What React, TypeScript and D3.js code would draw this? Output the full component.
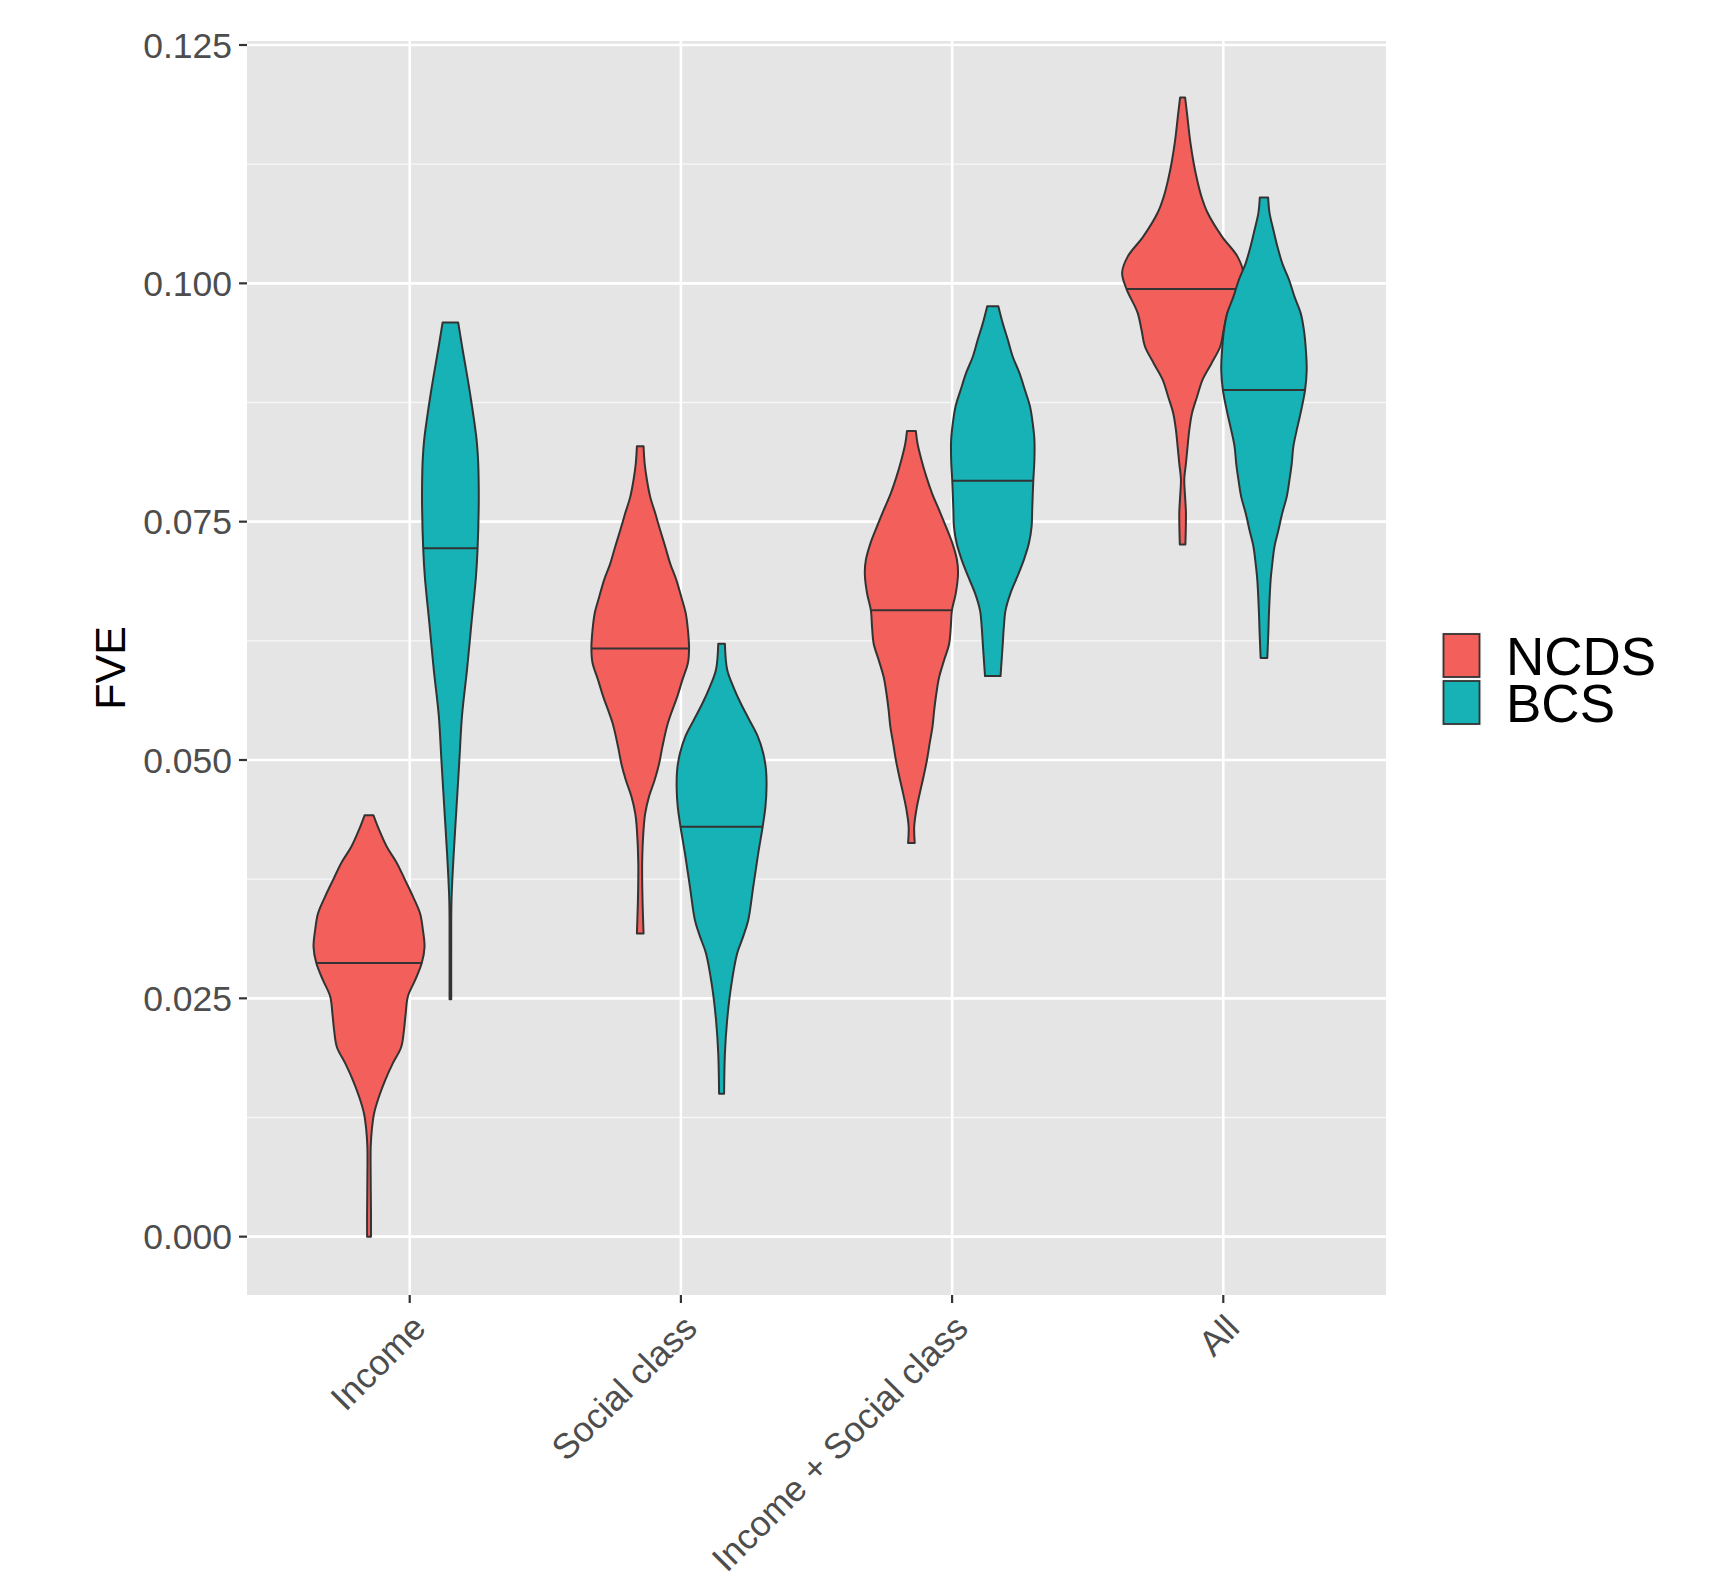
import React from "react";
import * as d3 from "d3";

// Categories on the x axis and the two cohorts that are dodged within each.
const categories = ["Income", "Social class", "Income + Social class", "All"];
const cohorts = ["NCDS", "BCS"];
const cohortColors = ["#F35F5A", "#17B2B6"];

const yTicks = [0, 0.025, 0.05, 0.075, 0.1, 0.125];
const yMinorTicks = [0.0125, 0.0375, 0.0625, 0.0875, 0.1125];

// Medians (the horizontal line inside each violin).
const ncdsMedians = [0.0287, 0.0617, 0.0657, 0.0994];
const bcsMedians = [0.0722, 0.043, 0.0793, 0.0888];

// Density profiles: [FVE, relative density], ascending FVE.
const incomeNCDS: [number, number][] = [
  [0.0, 0.035], [0.0025, 0.035], [0.006, 0.03], [0.0094, 0.03], [0.0112, 0.05],
  [0.0129, 0.09], [0.0147, 0.18], [0.0164, 0.29], [0.0182, 0.43], [0.0199, 0.58],
  [0.0217, 0.63], [0.0234, 0.66], [0.0252, 0.7], [0.0269, 0.83], [0.0287, 0.95],
  [0.0304, 1.0], [0.0322, 0.97], [0.0339, 0.92], [0.0357, 0.79], [0.0374, 0.65],
  [0.0392, 0.5], [0.0409, 0.32], [0.0427, 0.18], [0.0442, 0.08],
];
const incomeBCS: [number, number][] = [
  [0.0249, 0.015], [0.0305, 0.015], [0.0353, 0.02], [0.0402, 0.06], [0.045, 0.11],
  [0.0498, 0.16], [0.0547, 0.21], [0.0595, 0.3], [0.0644, 0.38], [0.0692, 0.46],
  [0.0722, 0.49], [0.0765, 0.51], [0.0789, 0.51], [0.0813, 0.5], [0.0837, 0.47],
  [0.0886, 0.35], [0.0934, 0.21], [0.0959, 0.14],
];
const socialNCDS: [number, number][] = [
  [0.0318, 0.06], [0.0357, 0.04], [0.0392, 0.035], [0.0427, 0.06], [0.0444, 0.09],
  [0.0462, 0.16], [0.0479, 0.26], [0.0496, 0.34], [0.0514, 0.4], [0.0539, 0.5],
  [0.0567, 0.67], [0.0584, 0.76], [0.0602, 0.86], [0.0617, 0.88], [0.0636, 0.86],
  [0.0654, 0.82], [0.0671, 0.74], [0.0689, 0.65], [0.0706, 0.54], [0.0724, 0.45],
  [0.0741, 0.36], [0.0759, 0.27], [0.0776, 0.18], [0.0794, 0.12], [0.0811, 0.08],
  [0.0829, 0.06],
];
const socialBCS: [number, number][] = [
  [0.015, 0.045], [0.0192, 0.06], [0.0227, 0.1], [0.0262, 0.17], [0.0297, 0.28],
  [0.0315, 0.39], [0.0332, 0.48], [0.0367, 0.57], [0.0402, 0.66], [0.043, 0.74],
  [0.0451, 0.79], [0.0472, 0.81], [0.049, 0.8], [0.0507, 0.75], [0.0525, 0.65],
  [0.0542, 0.5], [0.056, 0.34], [0.0577, 0.21], [0.0595, 0.1], [0.0622, 0.06],
];
const combinedNCDS: [number, number][] = [
  [0.0413, 0.06], [0.043, 0.05], [0.0448, 0.09], [0.0465, 0.15], [0.0483, 0.22],
  [0.05, 0.28], [0.0518, 0.33], [0.0535, 0.38], [0.0552, 0.41], [0.057, 0.45],
  [0.0587, 0.5], [0.0605, 0.59], [0.0622, 0.68], [0.064, 0.71], [0.0657, 0.73],
  [0.0675, 0.8], [0.0696, 0.84], [0.071, 0.82], [0.0727, 0.74], [0.0745, 0.62],
  [0.0762, 0.5], [0.078, 0.37], [0.0797, 0.27], [0.0815, 0.18], [0.0832, 0.11],
  [0.0845, 0.08],
];
const combinedBCS: [number, number][] = [
  [0.0588, 0.14], [0.0605, 0.16], [0.0622, 0.18], [0.064, 0.2], [0.0657, 0.23],
  [0.0675, 0.32], [0.0692, 0.44], [0.071, 0.56], [0.0727, 0.65], [0.0745, 0.7],
  [0.0762, 0.71], [0.0793, 0.73], [0.0815, 0.75], [0.0836, 0.75], [0.0853, 0.72],
  [0.0871, 0.67], [0.0888, 0.58], [0.0906, 0.48], [0.0923, 0.36], [0.0941, 0.27],
  [0.0958, 0.18], [0.0976, 0.1],
];
const allNCDS: [number, number][] = [
  [0.0726, 0.05], [0.0759, 0.06], [0.0776, 0.045], [0.0794, 0.03], [0.0811, 0.06],
  [0.0829, 0.09], [0.0846, 0.12], [0.0864, 0.17], [0.0881, 0.26], [0.0899, 0.36],
  [0.0916, 0.52], [0.0934, 0.68], [0.0951, 0.74], [0.0969, 0.81], [0.0994, 1.01],
  [0.1011, 1.09], [0.1028, 0.99], [0.1049, 0.71], [0.1074, 0.45], [0.1091, 0.34],
  [0.1109, 0.26], [0.1126, 0.2], [0.115, 0.135], [0.1178, 0.08], [0.1195, 0.045],
];
const allBCS: [number, number][] = [
  [0.0607, 0.06], [0.0636, 0.08], [0.0654, 0.09], [0.0689, 0.12], [0.0706, 0.15],
  [0.0724, 0.19], [0.0741, 0.26], [0.0759, 0.33], [0.0776, 0.41], [0.0794, 0.46],
  [0.0811, 0.5], [0.0829, 0.53], [0.0846, 0.59], [0.0864, 0.66], [0.0888, 0.74],
  [0.0909, 0.77], [0.0934, 0.75], [0.0951, 0.72], [0.0969, 0.66], [0.0986, 0.55],
  [0.1004, 0.45], [0.1021, 0.33], [0.1039, 0.24], [0.1056, 0.17], [0.1074, 0.1],
  [0.109, 0.075],
];

const ncdsProfiles = [incomeNCDS, socialNCDS, combinedNCDS, allNCDS];
const bcsProfiles = [incomeBCS, socialBCS, combinedBCS, allBCS];

function densityAt(profile: [number, number][], v: number): number {
  for (let i = 0; i < profile.length - 1; i++) {
    const [a, da] = profile[i];
    const [b, db] = profile[i + 1];
    if (v >= a && v <= b) return da + ((v - a) / (b - a || 1)) * (db - da);
  }
  return 0;
}

const FONT = "'Liberation Sans', Arial, Helvetica, sans-serif";

export default function App() {
  const W = 1717;
  const H = 1578;
  const panel = { left: 247, right: 1386, top: 41, bottom: 1295 };

  const x = d3.scalePoint<string>().domain(categories).range([panel.left, panel.right]).padding(0.6);
  const step = x.step();
  const dodge = d3.scalePoint<string>().domain(cohorts).range([-0.15 * step, 0.15 * step]);
  const y = d3.scaleLinear().domain([-0.00612, 0.12542]).range([panel.bottom, panel.top]);
  const w = d3.scaleLinear().domain([0, 1]).range([0, 55.5]);
  const fmt = d3.format(".3f");

  const violins: { cx: number; profile: [number, number][]; median: number; color: string; key: string }[] = [];
  categories.forEach((cat, i) => {
    cohorts.forEach((coh, j) => {
      violins.push({
        key: `${cat}-${coh}`,
        cx: (x(cat) as number) + (dodge(coh) as number),
        profile: j === 0 ? ncdsProfiles[i] : bcsProfiles[i],
        median: j === 0 ? ncdsMedians[i] : bcsMedians[i],
        color: cohortColors[j],
      });
    });
  });

  const tickColor = "#333333";
  const textColor = "#4D4D4D";

  return (
    <svg
      width={W}
      height={H}
      viewBox={`0 0 ${W} ${H}`}
      style={{ position: "absolute", left: 0, top: 0, display: "block", background: "#ffffff" }}
    >
      <rect x={0} y={0} width={W} height={H} fill="#ffffff" />
      {/* panel */}
      <rect
        x={panel.left}
        y={panel.top}
        width={panel.right - panel.left}
        height={panel.bottom - panel.top}
        fill="#E5E5E5"
      />
      {yMinorTicks.map((t) => (
        <line key={`mn${t}`} x1={panel.left} x2={panel.right} y1={y(t)} y2={y(t)} stroke="#F7F7F7" strokeWidth={1.3} />
      ))}
      {yTicks.map((t) => (
        <line key={`mj${t}`} x1={panel.left} x2={panel.right} y1={y(t)} y2={y(t)} stroke="#ffffff" strokeWidth={2.6} />
      ))}
      {categories.map((c) => (
        <line key={`vx${c}`} x1={x(c)} x2={x(c)} y1={panel.top} y2={panel.bottom} stroke="#ffffff" strokeWidth={2.6} />
      ))}

      {/* violins */}
      {violins.map((v) => {
        const area = d3
          .area<[number, number]>()
          .y((d) => y(d[0]))
          .x0((d) => v.cx - w(d[1]))
          .x1((d) => v.cx + w(d[1]))
          .curve(d3.curveCatmullRom.alpha(0.5));
        const hw = w(densityAt(v.profile, v.median));
        return (
          <g key={v.key}>
            <path d={area(v.profile) || ""} fill={v.color} stroke="#333333" strokeWidth={2} strokeLinejoin="round" />
            <line x1={v.cx - hw} x2={v.cx + hw} y1={y(v.median)} y2={y(v.median)} stroke="#333333" strokeWidth={2} />
          </g>
        );
      })}

      {/* y axis */}
      {yTicks.map((t) => (
        <g key={`yt${t}`}>
          <line x1={panel.left - 8} x2={panel.left} y1={y(t)} y2={y(t)} stroke={tickColor} strokeWidth={2.2} />
          <text
            x={panel.left - 15}
            y={y(t)}
            dy="0.36em"
            textAnchor="end"
            fontFamily={FONT}
            fontSize={35.5}
            fill={textColor}
          >
            {fmt(t)}
          </text>
        </g>
      ))}
      <text
        transform={`translate(125, ${(panel.top + panel.bottom) / 2}) rotate(-90)`}
        textAnchor="middle"
        fontFamily={FONT}
        fontSize={43}
        fill="#000000"
      >
        FVE
      </text>

      {/* x axis */}
      {categories.map((c) => (
        <g key={`xt${c}`}>
          <line x1={x(c)} x2={x(c)} y1={panel.bottom} y2={panel.bottom + 8} stroke={tickColor} strokeWidth={2.2} />
          <text
            transform={`translate(${x(c)}, ${panel.bottom + 17}) rotate(-45)`}
            y={0}
            dy="0.72em"
            textAnchor="end"
            fontFamily={FONT}
            fontSize={35.5}
            fill={textColor}
          >
            {c}
          </text>
        </g>
      ))}

      {/* legend */}
      {cohorts.map((c, i) => {
        const top = 632.5 + i * 47;
        return (
          <g key={`lg${c}`}>
            <rect x={1441.5} y={top} width={40} height={46} fill="#F2F2F2" />
            <rect
              x={1443.5}
              y={top + 1.5}
              width={36}
              height={43}
              fill={cohortColors[i]}
              stroke="#333333"
              strokeWidth={1.8}
            />
            <text x={1506} y={top + 23 + 19} fontFamily={FONT} fontSize={53} fill="#000000">
              {c}
            </text>
          </g>
        );
      })}
    </svg>
  );
}
